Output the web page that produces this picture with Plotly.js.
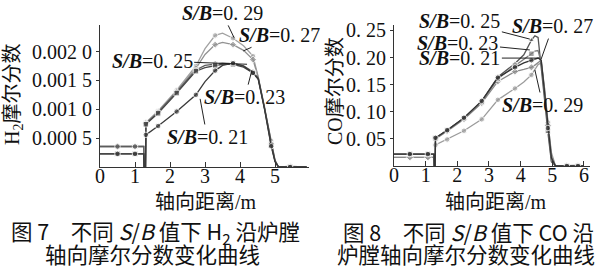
<!DOCTYPE html>
<html>
<head>
<meta charset="utf-8">
<script src="https://cdn.plot.ly/plotly-3.0.1.min.js"></script>
<style>
html,body{margin:0;padding:0;background:#fff;}
#chart{width:600px;height:270px;}
</style>
</head>
<body>
<div id="chart"></div>
<script>
// ---------- DATA ----------
const SERIES = ['0.29', '0.27', '0.25', '0.23', '0.21'];

// Fig. 7: H2 mole fraction along the furnace axis
const H2_X = [0, 0.5, 1.0, 1.25, 1.26, 1.30, 1.31, 1.66, 2.19, 2.74, 3.0, 3.29, 3.5, 3.8, 4.1, 4.37, 4.52, 4.7, 4.89, 5.0, 5.1, 5.43, 5.9];
const H2_029 = [0.000355, 0.000355, 0.000355, 0.000355, 0, 0, 0.00077, 0.00097, 0.00133, 0.00175, 0.00205, 0.00228, 0.00232, 0.00223, 0.00210, 0.00192, 0.00156, 0.00105, 0.00045, 0.00012, 0, 0.00001, 0];
const H2_027 = [0.000355, 0.000355, 0.000355, 0.000355, 0, 0, 0.00076, 0.00095, 0.00131, 0.00171, 0.00195, 0.00212, 0.00216, 0.00212, 0.00202, 0.00186, 0.00155, 0.00104, 0.00040, 0.00010, 0, 0.00001, 0];
const H2_025 = [0.000355, 0.000355, 0.000355, 0.000355, 0, 0, 0.00075, 0.00095, 0.00130, 0.00168, 0.00176, 0.00179, 0.00180, 0.00179, 0.00175, 0.00165, 0.00154, 0.00102, 0.00040, 0.00011, 0, 0, 0];
const H2_023 = [0.000228, 0.000228, 0.000228, 0.000228, 0, 0, 0.00074, 0.00093, 0.00128, 0.00166, 0.00172, 0.00176, 0.00178, 0.00178, 0.00173, 0.00163, 0.00153, 0.00101, 0.00038, 0.00010, 0, 0, 0];
const H2_021 = [0.000228, 0.000228, 0.000228, 0.000228, 0, 0, 0.000557, 0.00071, 0.00096, 0.00125, 0.00148, 0.00167, 0.00176, 0.00180, 0.00175, 0.00163, 0.00152, 0.00100, 0.00036, 0.00009, 0, 0, 0];
const H2_MARK_X = [0.5, 1.0, 1.31, 1.66, 2.19, 2.74, 3.29, 3.8, 4.37, 4.89, 5.43];
const H2_X_TICKS = [0, 1, 2, 3, 4, 5];
const H2_Y_TICKS = [0.0005, 0.0010, 0.0015, 0.0020];
const H2_Y_TICK_TEXT = ['0.000 5', '0.001 0', '0.001 5', '0.002 0'];

// Fig. 8: CO mole fraction along the furnace axis
const CO_X = [0, 0.5, 1.07, 1.26, 1.27, 1.30, 1.31, 1.68, 2.21, 2.77, 3.28, 3.82, 4.1, 4.34, 4.45, 4.55, 4.65, 4.75, 4.86, 4.97, 5.1, 5.46, 5.81, 6.0];
const CO_029 = [0.016, 0.016, 0.016, 0.016, 0, 0, 0.0387, 0.049, 0.065, 0.086, 0.122, 0.143, 0.155, 0.168, 0.178, 0.187, 0.190, 0.145, 0.080, 0.025, 0, 0.001, 0.001, 0];
const CO_027 = [0.016, 0.016, 0.016, 0.016, 0, 0, 0.050, 0.064, 0.086, 0.116, 0.156, 0.174, 0.178, 0.182, 0.186, 0.191, 0.195, 0.145, 0.075, 0.020, 0, 0.001, 0.001, 0];
const CO_025 = [0.022, 0.022, 0.022, 0.022, 0, 0, 0.051, 0.066, 0.088, 0.119, 0.164, 0.189, 0.205, 0.232, 0.240, 0.237, 0.185, 0.125, 0.062, 0.008, 0, 0, 0, 0];
const CO_023 = [0.022, 0.022, 0.022, 0.022, 0, 0, 0.051, 0.066, 0.088, 0.118, 0.161, 0.185, 0.196, 0.207, 0.212, 0.213, 0.190, 0.130, 0.065, 0.010, 0, 0, 0, 0];
const CO_021 = [0.022, 0.022, 0.022, 0.022, 0, 0, 0.052, 0.066, 0.089, 0.120, 0.163, 0.182, 0.190, 0.195, 0.197, 0.199, 0.195, 0.140, 0.070, 0.015, 0, 0, 0, 0];
const CO_MARK_X = [0.5, 1.07, 1.31, 1.68, 2.21, 2.77, 3.28, 3.82, 4.34, 4.86, 5.46, 5.81];
const CO_X_TICKS = [0, 1, 2, 3, 4, 5, 6];
const CO_Y_TICKS = [0.05, 0.10, 0.15, 0.20, 0.25];
const CO_Y_TICK_TEXT = ['0. 05', '0. 10', '0. 15', '0. 20', '0. 25'];

// ---------- STYLE ----------
const SERIF = '"Liberation Serif", "Noto Sans CJK SC", serif';
const CJK = '"Noto Sans CJK SC", "Liberation Serif", sans-serif';
const H2_STYLE = {
  '0.29': {color: '#a2a2a2', symbol: 'circle'},
  '0.27': {color: '#929292', symbol: 'diamond'},
  '0.25': {color: '#5c5c5c', symbol: 'circle'},
  '0.23': {color: '#464646', symbol: 'square'},
  '0.21': {color: '#3a3a3a', symbol: 'circle'}
};
const CO_STYLE = {
  '0.29': {color: '#9c9c9c', symbol: 'circle'},
  '0.27': {color: '#8a8a8a', symbol: 'diamond'},
  '0.25': {color: '#555555', symbol: 'triangle-up'},
  '0.23': {color: '#7a7a7a', symbol: 'square'},
  '0.21': {color: '#333333', symbol: 'circle'}
};

function makeTrace(xs, ys, markX, style, name, xa, ya) {
  return {
    x: xs, y: ys, name: 'S/B=' + name, xaxis: xa, yaxis: ya,
    type: 'scatter', mode: 'lines+markers', cliponaxis: true,
    line: {color: style.color, width: 1.3},
    marker: {
      color: style.color, symbol: style.symbol,
      size: xs.map(v => markX.indexOf(v) >= 0 ? 5.5 : 0)
    },
    showlegend: false, hoverinfo: 'x+y+name'
  };
}

const H2_Y = {'0.29': H2_029, '0.27': H2_027, '0.25': H2_025, '0.23': H2_023, '0.21': H2_021};
const CO_Y = {'0.29': CO_029, '0.27': CO_027, '0.25': CO_025, '0.23': CO_023, '0.21': CO_021};

const traces = [];
SERIES.forEach(s => traces.push(makeTrace(H2_X, H2_Y[s], H2_MARK_X, H2_STYLE[s], s, 'x', 'y')));
SERIES.forEach(s => traces.push(makeTrace(CO_X, CO_Y[s], CO_MARK_X, CO_STYLE[s], s, 'x2', 'y2')));

function lbl(s) { return '<b><i>S/B</i></b>=' + s.replace('.', '. '); }
function seriesLabel(s, xa, ya, px, py, tx, ty) {
  return {
    xref: xa, yref: ya, axref: xa, ayref: ya,
    x: px, y: py, ax: tx, ay: ty,
    text: lbl(s), showarrow: true, arrowhead: 0, arrowwidth: 1,
    arrowcolor: '#222', standoff: 0, startstandoff: 0,
    font: {family: SERIF, size: 20, color: '#111'}
  };
}
// paper coordinates (margins are zero, so paper = whole picture)
const W = 600, H = 270;
function px(x) { return x / W; }
function py(y) { return 1 - y / H; }
function paperText(text, x, y, font, angle) {
  return {xref: 'paper', yref: 'paper', x: px(x), y: py(y), xanchor: 'center', yanchor: 'middle',
          showarrow: false, text: text, font: font, textangle: angle || 0};
}

const tickFont = {family: SERIF, size: 20, color: '#111'};
const titleFont = {family: SERIF, size: 20, color: '#111'};
const capFont = {family: CJK, size: 21.5, color: '#111'};

const annotations = [
  // Fig. 7 labels
  seriesLabel('0.29', 'x', 'y', 3.83, 0.00224, 3.49, 0.00267),
  seriesLabel('0.27', 'x', 'y', 4.09, 0.00201, 5.14, 0.00229),
  seriesLabel('0.25', 'x', 'y', 4.20, 0.00178, 1.49, 0.00184),
  seriesLabel('0.23', 'x', 'y', 4.34, 0.00168, 4.14, 0.00121),
  seriesLabel('0.21', 'x', 'y', 2.86, 0.00118, 3.06, 0.00052),
  // Fig. 8 labels
  seriesLabel('0.25', 'x2', 'y2', 4.29, 0.234, 2.08, 0.2675),
  seriesLabel('0.27', 'x2', 'y2', 4.64, 0.196, 5.02, 0.258),
  seriesLabel('0.23', 'x2', 'y2', 4.29, 0.214, 2.02, 0.227),
  seriesLabel('0.21', 'x2', 'y2', 4.60, 0.199, 2.08, 0.199),
  seriesLabel('0.29', 'x2', 'y2', 4.45, 0.177, 4.70, 0.1125),
  // axis titles
  paperText('轴向距离/m', 206, 202, titleFont),
  paperText('轴向距离/m', 496, 202, titleFont),
  paperText('H<sub>2</sub>摩尔分数', 13, 95, titleFont, -90),
  paperText('CO摩尔分数', 335, 91, titleFont, -90),
  // captions
  paperText('图 7　不同 <i>S</i>/<i>B</i> 值下 H<sub>2</sub> 沿炉膛', 155, 231.5, capFont),
  paperText('轴向摩尔分数变化曲线', 152, 253, capFont),
  paperText('图 8　不同 <i>S</i>/<i>B</i> 值下 CO 沿', 468, 231.5, capFont),
  paperText('炉膛轴向摩尔分数变化曲线', 466, 253, capFont)
];

const axisCommon = {
  showgrid: false, zeroline: false, showline: true, linecolor: '#333', linewidth: 1,
  tickcolor: '#333', tickfont: tickFont, fixedrange: true, automargin: false
};

const layout = {
  width: W, height: H,
  margin: {l: 0, r: 0, t: 0, b: 0, pad: 0},
  paper_bgcolor: '#fff', plot_bgcolor: '#fff',
  showlegend: false,
  xaxis: Object.assign({}, axisCommon, {
    domain: [px(100), px(309)], range: [0, 5.97], anchor: 'y',
    tickmode: 'array', tickvals: H2_X_TICKS, ticks: 'inside', ticklen: 5, ticklabelstandoff: -9
  }),
  yaxis: Object.assign({}, axisCommon, {
    domain: [py(167), py(25)], range: [0, 0.00246], anchor: 'x',
    tickmode: 'array', tickvals: H2_Y_TICKS, ticktext: H2_Y_TICK_TEXT, ticks: 'outside', ticklen: 3
  }),
  xaxis2: Object.assign({}, axisCommon, {
    domain: [px(394), px(590)], range: [0, 6.19], anchor: 'y2',
    tickmode: 'array', tickvals: CO_X_TICKS, ticks: 'inside', ticklen: 5, ticklabelstandoff: -9
  }),
  yaxis2: Object.assign({}, axisCommon, {
    domain: [py(166), py(25)], range: [0, 0.26], anchor: 'x2',
    tickmode: 'array', tickvals: CO_Y_TICKS, ticktext: CO_Y_TICK_TEXT, ticks: 'outside', ticklen: 3
  }),
  annotations: annotations
};

Plotly.newPlot('chart', traces, layout, {displayModeBar: false, staticPlot: true});
</script>
</body>
</html>
